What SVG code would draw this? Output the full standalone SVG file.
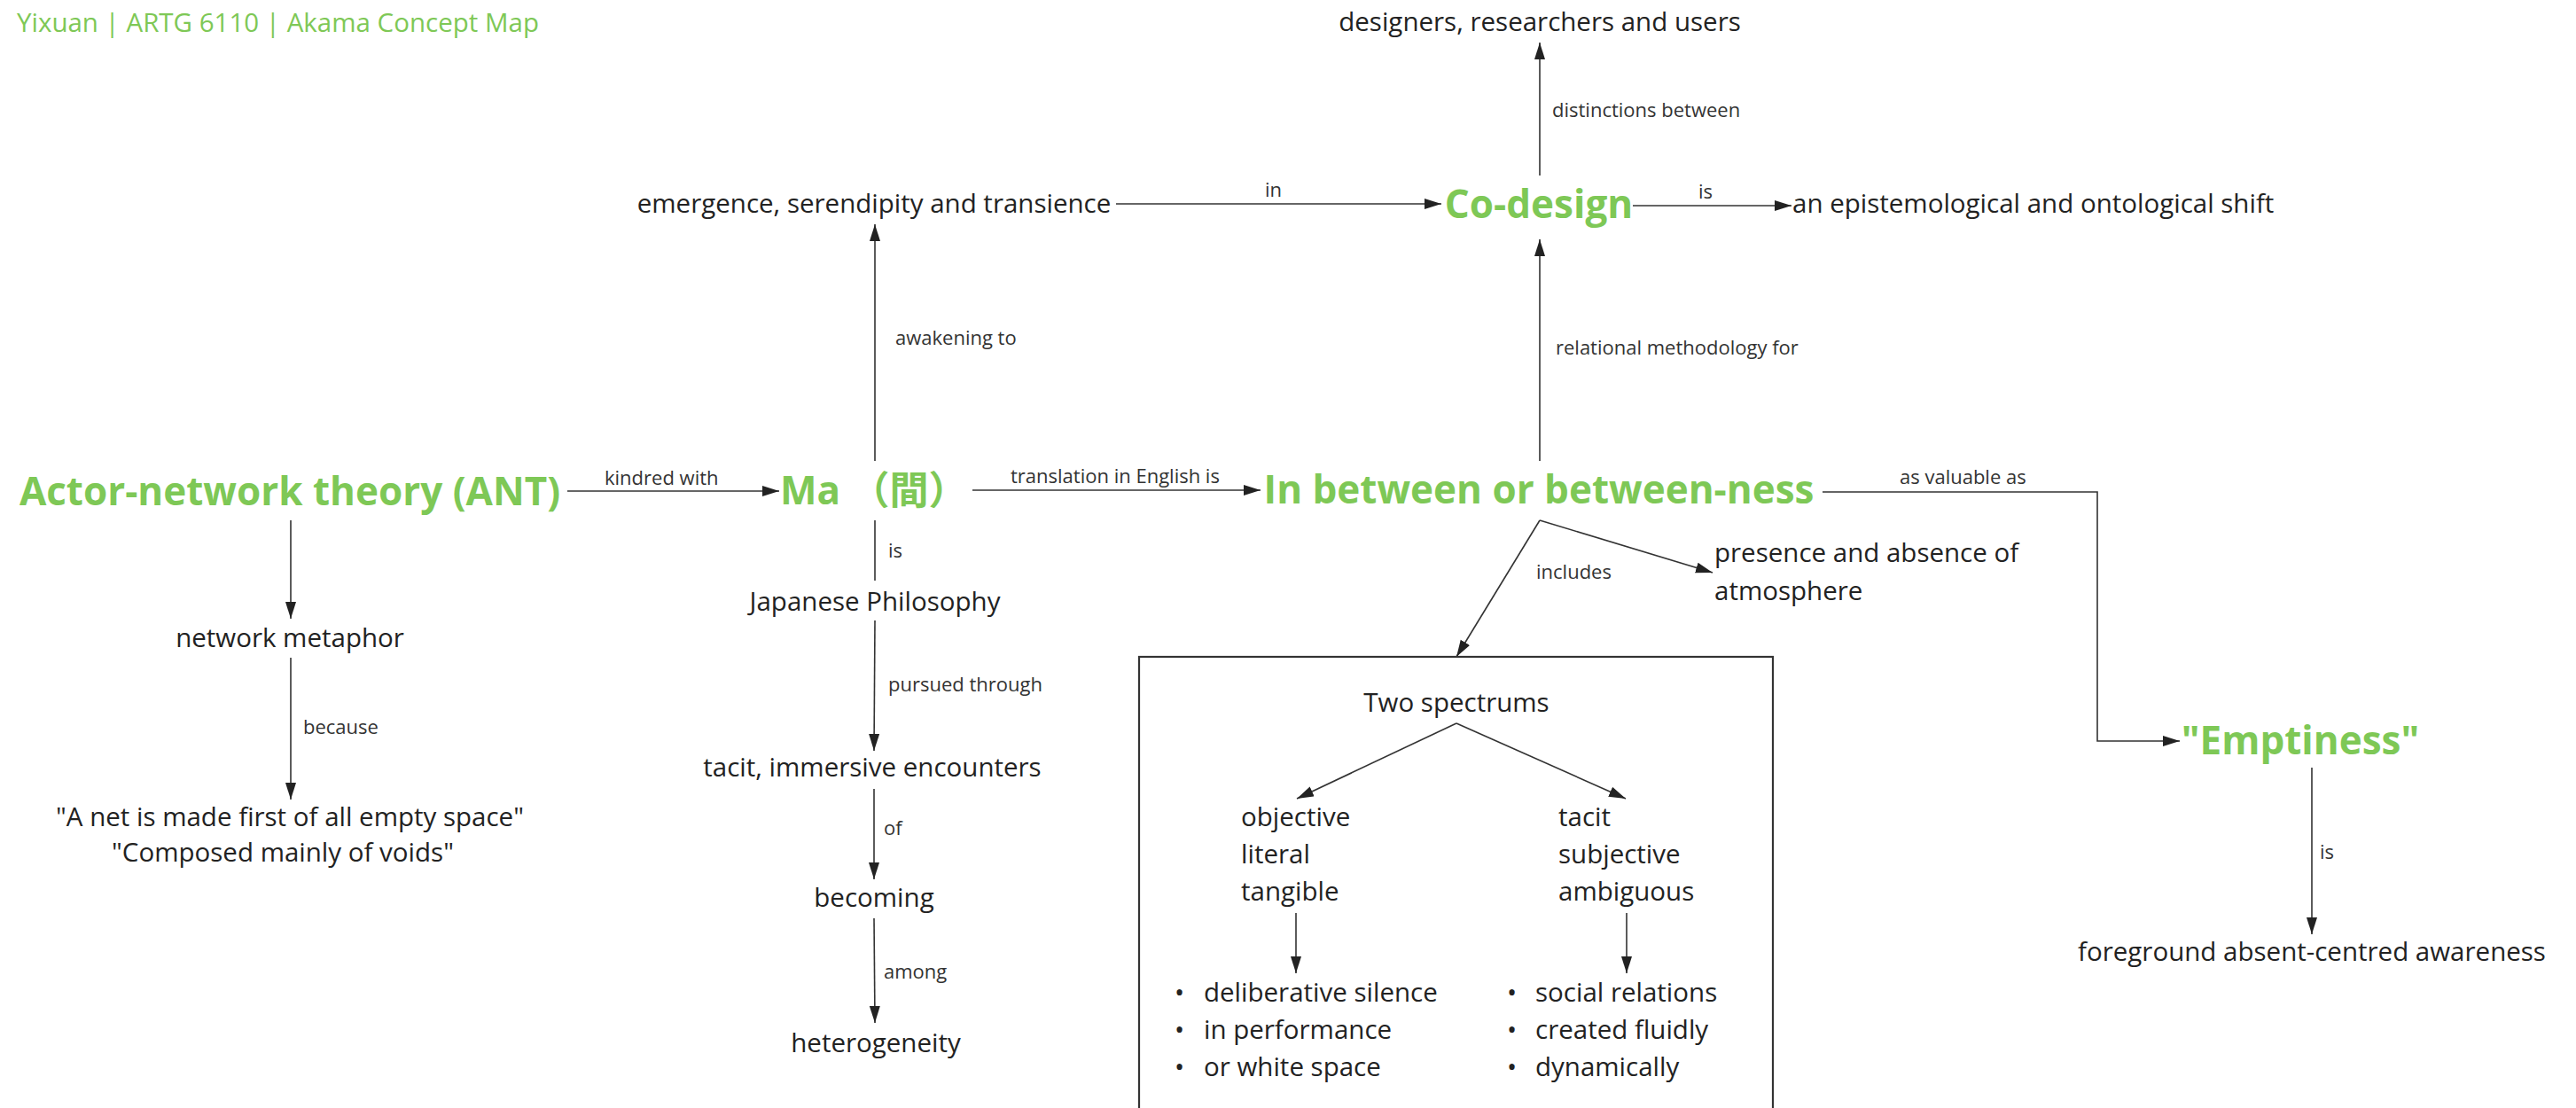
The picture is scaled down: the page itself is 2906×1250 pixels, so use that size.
<svg xmlns="http://www.w3.org/2000/svg" width="2906" height="1250" viewBox="0 0 2906 1250">
  <defs>
    <marker id="arrow" markerUnits="userSpaceOnUse" markerWidth="20" markerHeight="14" refX="19" refY="6" orient="auto">
      <path d="M0,0 L19,6 L0,12 Z" fill="#222"/>
    </marker>
    <style>
      .node { font-family: "Open Sans", "Noto Sans", sans-serif; font-size: 29.5px; fill: #222; }
      .key { font-family: "Open Sans", "Noto Sans CJK JP", sans-serif; font-size: 44px; font-weight: 700; fill: #7ec856; }
      .lbl { font-family: "Open Sans", "Noto Sans", sans-serif; font-size: 22px; fill: #333; }
      .mid { text-anchor: middle; }
      .edge { fill: none; stroke: #333; stroke-width: 1.6; }
      .arr { marker-end: url(#arrow); }
      .frame { fill: none; stroke: #333; stroke-width: 2.2; }
    </style>
  </defs>
  <rect width="2906" height="1250" fill="#ffffff"/>

  <text id="title" x="19" y="36" font-family="Open Sans, sans-serif" font-size="29.5" fill="#7ec856">Yixuan | ARTG 6110 | Akama Concept Map</text>

  <!-- connectors -->
  <g id="connectors">
    <line class="edge arr" x1="640" y1="554" x2="879" y2="554"/>
    <text class="lbl" x="682" y="547">kindred with</text>

    <line class="edge arr" x1="328" y1="587" x2="328" y2="698"/>

    <line class="edge arr" x1="328" y1="742" x2="328" y2="902"/>
    <text class="lbl" x="342" y="828">because</text>

    <line class="edge arr" x1="987" y1="520" x2="987" y2="253"/>
    <text class="lbl" x="1010" y="389">awakening to</text>

    <line class="edge" x1="987" y1="587" x2="987" y2="655"/>
    <text class="lbl" x="1002" y="629">is</text>

    <line class="edge arr" x1="987" y1="700" x2="986" y2="847"/>
    <text class="lbl" x="1002" y="780">pursued through</text>

    <line class="edge arr" x1="986" y1="890" x2="986" y2="992"/>
    <text class="lbl" x="997" y="942">of</text>

    <line class="edge arr" x1="986" y1="1036" x2="987" y2="1154"/>
    <text class="lbl" x="997" y="1104">among</text>

    <line class="edge arr" x1="1097" y1="553" x2="1422" y2="553"/>
    <text class="lbl" x="1140" y="545">translation in English is</text>

    <line class="edge arr" x1="1259" y1="230" x2="1626" y2="230"/>
    <text class="lbl" x="1427" y="222">in</text>

    <line class="edge arr" x1="1842" y1="232" x2="2021" y2="232"/>
    <text class="lbl" x="1916" y="224">is</text>

    <line class="edge arr" x1="1737" y1="198" x2="1737" y2="48"/>
    <text class="lbl" x="1751" y="132">distinctions between</text>

    <line class="edge arr" x1="1737" y1="520" x2="1737" y2="270"/>
    <text class="lbl" x="1755" y="400">relational methodology for</text>

    <line class="edge arr" x1="1737" y1="587" x2="1932" y2="646"/>
    <text class="lbl" x="1733" y="653">includes</text>

    <line class="edge arr" x1="1737" y1="587" x2="1643" y2="741"/>

    <path class="edge arr" d="M2056,555 H2366 V836 H2459"/>
    <text class="lbl" x="2143" y="546">as valuable as</text>

    <line class="edge arr" x1="2608" y1="866" x2="2608" y2="1054"/>
    <text class="lbl" x="2617" y="969">is</text>

    <line class="edge arr" x1="1643" y1="816" x2="1463" y2="901"/>
    <line class="edge arr" x1="1643" y1="816" x2="1834" y2="901"/>
    <line class="edge arr" x1="1462" y1="1030" x2="1462" y2="1098"/>
    <line class="edge arr" x1="1835" y1="1030" x2="1835" y2="1098"/>
  </g>

  <!-- concepts -->
  <g id="designers"><text class="node mid" x="1737" y="35">designers, researchers and users</text></g>
  <g id="emergence"><text class="node mid" x="986" y="240">emergence, serendipity and transience</text></g>
  <g id="codesign"><text class="key mid" x="1736" y="246">Co-design</text></g>
  <g id="shift"><text class="node" x="2022" y="240">an epistemological and ontological shift</text></g>
  <g id="ant"><text class="key mid" x="327" y="570">Actor-network theory (ANT)</text></g>
  <g id="ma"><text class="key" x="880" y="569">Ma （間）</text></g>
  <g id="between"><text class="key mid" x="1736" y="568">In between or between-ness</text></g>
  <g id="metaphor"><text class="node mid" x="327" y="730">network metaphor</text></g>
  <g id="net-quote">
    <text class="node mid" x="327" y="932">"A net is made first of all empty space"</text>
    <text class="node mid" x="319" y="972">"Composed mainly of voids"</text>
  </g>
  <g id="japanese"><text class="node mid" x="987" y="689">Japanese Philosophy</text></g>
  <g id="encounters"><text class="node mid" x="984" y="876">tacit, immersive encounters</text></g>
  <g id="becoming"><text class="node mid" x="986" y="1023">becoming</text></g>
  <g id="heterogeneity"><text class="node mid" x="988" y="1187">heterogeneity</text></g>
  <g id="presence">
    <text class="node" x="1934" y="634">presence and absence of</text>
    <text class="node" x="1934" y="677">atmosphere</text>
  </g>
  <g id="emptiness"><text class="key mid" x="2595" y="851">"Emptiness"</text></g>
  <g id="awareness"><text class="node mid" x="2608" y="1084">foreground absent-centred awareness</text></g>

  <!-- framed group: the two spectrums -->
  <g id="spectrums">
    <rect class="frame" x="1285" y="741" width="715" height="530"/>
    <text class="node mid" x="1643" y="803">Two spectrums</text>
    <g id="objective">
      <text class="node" x="1400" y="932">objective</text>
      <text class="node" x="1400" y="974">literal</text>
      <text class="node" x="1400" y="1016">tangible</text>
    </g>
    <g id="tacit">
      <text class="node" x="1758" y="932">tacit</text>
      <text class="node" x="1758" y="974">subjective</text>
      <text class="node" x="1758" y="1016">ambiguous</text>
    </g>
    <g id="silence-list">
      <text class="node" x="1325" y="1130">•</text><text class="node" x="1358" y="1130">deliberative silence</text>
      <text class="node" x="1325" y="1172">•</text><text class="node" x="1358" y="1172">in performance</text>
      <text class="node" x="1325" y="1214">•</text><text class="node" x="1358" y="1214">or white space</text>
    </g>
    <g id="social-list">
      <text class="node" x="1700" y="1130">•</text><text class="node" x="1732" y="1130">social relations</text>
      <text class="node" x="1700" y="1172">•</text><text class="node" x="1732" y="1172">created fluidly</text>
      <text class="node" x="1700" y="1214">•</text><text class="node" x="1732" y="1214">dynamically</text>
    </g>
  </g>
</svg>
